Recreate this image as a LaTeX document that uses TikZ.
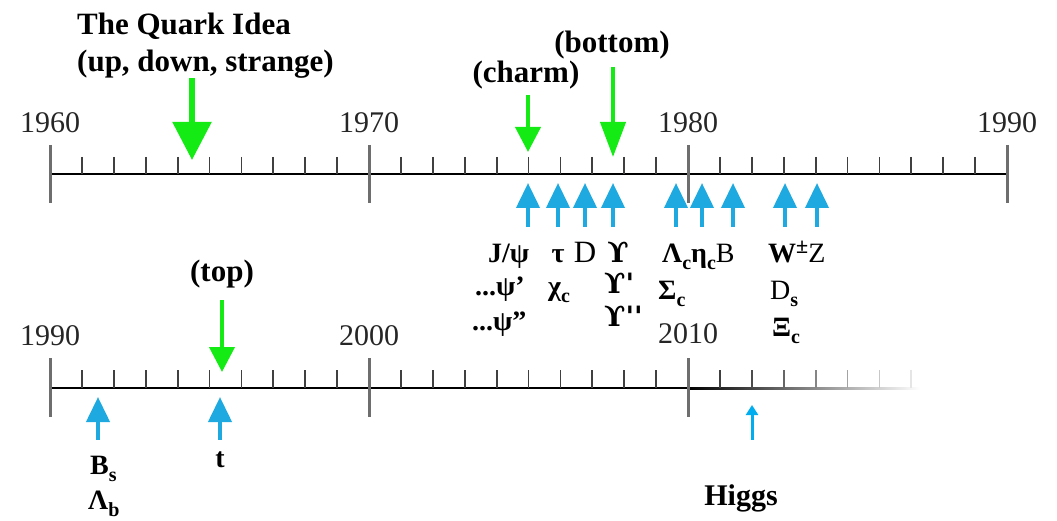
\documentclass[tikz,border=0pt]{standalone}
\usepackage{fontspec}
\setmainfont{Liberation Serif}
\newfontfamily\dvs{DejaVu Serif}
\usetikzlibrary{arrows.meta}
\definecolor{qgreen}{RGB}{20,235,20}
\definecolor{qblue}{RGB}{30,170,225}
\definecolor{hblue}{RGB}{0,174,239}
\definecolor{tickgray}{RGB}{110,110,110}
\newcommand\sbs[1]{\raisebox{-7pt}{\fontsize{20}{20}\selectfont #1}}
\newcommand\sps[1]{\raisebox{9pt}{\fontsize{22}{22}\selectfont #1}}
\begin{document}
\begin{tikzpicture}[x=1pt,y=-1pt,
  yr/.style={font=\fontsize{30}{30}\selectfont, anchor=base, inner sep=0pt, text=black!85},
  btext/.style={font=\fontsize{31}{37}\selectfont\bfseries, inner sep=0pt},
  plab/.style={font=\fontsize{28}{28}\selectfont\bfseries, anchor=base west, inner sep=0pt},
  axisline/.style={line width=2pt, black},
  minortick/.style={line width=1.8pt, black!75},
  majortick/.style={line width=3pt, tickgray},
  garrowbig/.style={draw=qgreen, line width=5.5pt, -{Triangle[width=38pt,length=38pt]}},
  garrow/.style={draw=qgreen, line width=4pt, -{Triangle[width=25pt,length=#1]}},
  barrow/.style={draw=qblue, line width=4pt, -{Triangle[width=23pt,length=25pt]}},
  harrow/.style={draw=hblue, line width=3pt, -{Triangle[width=12pt,length=10pt]}}
]
\useasboundingbox (0,0) rectangle (1057,521);

% ---------- top axis 1960-1990 ----------
\draw[axisline] (50,174) -- (1007,174);
\foreach \i in {1,...,29} \draw[minortick] ({50+\i*31.9},157) -- ({50+\i*31.9},174);
\foreach \i in {0,10,20,30} \draw[majortick] ({50+\i*31.9},145) -- ({50+\i*31.9},203);
\node[yr] (y1960) at (50,133) {1960};
\node[yr] (y1970) at (369,133) {1970};
\node[yr] (y1980) at (688,133) {1980};
\node[yr] (y1990a) at (1007,133) {1990};

% ---------- bottom axis 1990-2017 ----------
\draw[axisline] (50,388) -- (688,388);
\shade[left color=black, right color=white] (688,387) rectangle (920,389);
\foreach \i in {1,...,9,11,12,13,14,15,16,17,18,19} \draw[minortick] ({50+\i*31.9},370) -- ({50+\i*31.9},388);
\foreach \i/\c in {21/75,22/70,23/60,24/48,25/36,26/22,27/10}
  \draw[line width=1.8pt, black!\c] ({50+\i*31.9},370) -- ({50+\i*31.9},388);
\foreach \i in {0,10,20} \draw[majortick] ({50+\i*31.9},358) -- ({50+\i*31.9},417);
\node[yr] (y1990b) at (50,345) {1990};
\node[yr] (y2000) at (369,345) {2000};
\node[yr] (y2010) at (688,343) {2010};

% ---------- green labels & arrows ----------
\node[btext, anchor=base west] (quark1) at (77,35) {The Quark Idea};
\node[btext, anchor=base west] (quark2) at (77,72) {(up, down, strange)};
\node[btext, anchor=base] (charm) at (526,83) {(charm)};
\node[btext, anchor=base] (bottom) at (612,53) {(bottom)};
\node[btext, anchor=base] (topq) at (222,282) {(top)};

\coordinate (qs) at (192,78);  \coordinate (qe) at (192,160);
\coordinate (cs) at (528,95);  \coordinate (ce) at (528,152);
\coordinate (bs0) at (613,67); \coordinate (be) at (613,157);
\coordinate (ts) at (222,300); \coordinate (te) at (222,372);
\draw[garrowbig] (qs) -- (qe);
\draw[garrow=25pt] (cs) -- (ce);
\draw[garrow=35pt] (bs0) -- (be);
\draw[garrow=25pt] (ts) -- (te);

% ---------- blue arrows top ----------
\foreach \x in {528,558,585,613,676,702,733,785,817}
  \draw[barrow] (\x,227) -- (\x,183);

% ---------- particle labels ----------
\node[plab] (jpsi) at (488,262) {J/ψ};
\node[plab, anchor=base] (tau) at (558,262) {τ};
\node[plab, anchor=base, font=\fontsize{31}{31}\selectfont] (dmes) at (585,262) {D};
\node[plab, anchor=base] (ups1) at (618,262) {\dvs ϒ};
\node[plab] (lamc) at (662,262) {Λ\sbs{c}η\sbs{c}\mdseries B};
\node[plab] (wz) at (768,262) {W\sps{±}\mdseries Z};

\node[plab] (psi2) at (475,295) {...ψ'};
\node[plab] (chic) at (548,295) {χ\sbs{c}};
\node[plab, anchor=base west] (ups2) at (604,294) {\dvs ϒ'};
\node[plab] (sigc) at (658,299) {Σ\sbs{c}};
\node[plab] (ds) at (770,299) {\mdseries D\sbs{\bfseries s}};

\node[plab] (psi3) at (472,330) {...ψ''};
\node[plab, anchor=base west] (ups3) at (604,326) {\dvs ϒ''};
\node[plab] (xic) at (772,336) {Ξ\sbs{c}};

% ---------- bottom arrows & labels ----------
\draw[barrow] (98,440) -- (98,397);
\draw[barrow] (220,440) -- (220,397);
\draw[harrow] (752,440) -- (752,405);
\node[plab] (bsm) at (90,474) {B\sbs{s}};
\node[plab] (lamb) at (88,509) {Λ\sbs{b}};
\node[plab, anchor=base] (tq) at (220,467) {t};
\node[font=\fontsize{30}{30}\selectfont\bfseries, anchor=base, inner sep=0pt] (higgs) at (741,505) {Higgs};
\end{tikzpicture}
\end{document}
